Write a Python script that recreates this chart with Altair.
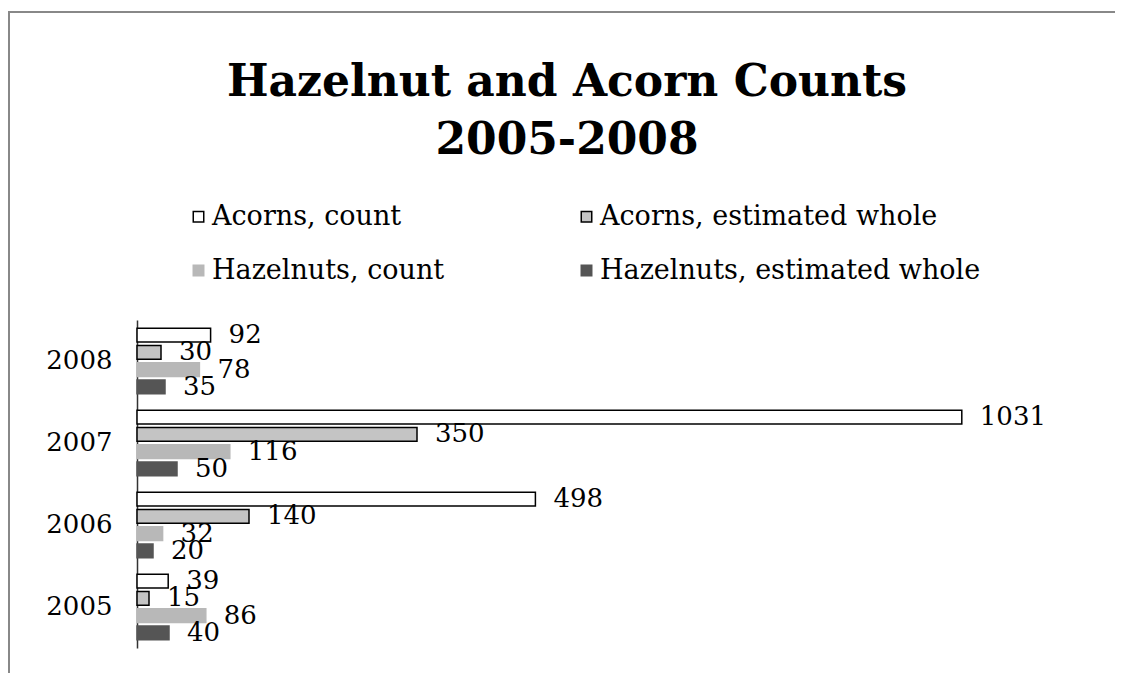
import altair as alt
import pandas as pd

years = ["2008", "2007", "2006", "2005"]
series = ["Acorns, count", "Acorns, estimated whole",
          "Hazelnuts, count", "Hazelnuts, estimated whole"]
acorns_count = [92, 1031, 498, 39]
acorns_est = [30, 350, 140, 15]
hazel_count = [78, 116, 32, 86]
hazel_est = [35, 50, 20, 40]

# legend is laid out column by column, so list it in that order
legend_order = ["Acorns, count", "Hazelnuts, count",
                "Acorns, estimated whole", "Hazelnuts, estimated whole"]
fills = ["#ffffff", "#b8b8b8", "#c4c4c4", "#555555"]
strokes = ["#000000", "#b8b8b8", "#000000", "#555555"]

rows = []
for s, vals in zip(series, [acorns_count, acorns_est, hazel_count, hazel_est]):
    for y, v in zip(years, vals):
        rows.append({"year": y, "series": s, "value": v})
df = pd.DataFrame(rows)

FONT = "DejaVu Serif"

legend_props = dict(
    title=None, orient="none", legendX=48, legendY=-117, columns=2,
    columnPadding=128, rowPadding=26, symbolType="square", symbolSize=110,
    symbolStrokeWidth=1.5, labelFont=FONT, labelFontSize=27, labelColor="#000",
    labelOffset=0, padding=0, labelLimit=0,
)

y_enc = alt.Y("year:N", sort=years,
              scale=alt.Scale(paddingInner=0.2, paddingOuter=0.1),
              axis=alt.Axis(title=None, ticks=False, labelPadding=25,
                            labelFont=FONT, labelFontSize=26, labelColor="#000",
                            domainColor="#333", domainWidth=1.5))
yoff = alt.YOffset("series:N", sort=series,
                   scale=alt.Scale(domain=series, paddingInner=0.2, paddingOuter=0))
x_enc = alt.X("value:Q", scale=alt.Scale(domain=[0, 1075]), axis=None)

base = alt.Chart(df)
bars = base.mark_bar(strokeWidth=1.5).encode(
    y=y_enc, yOffset=yoff, x=x_enc,
    fill=alt.Fill("series:N",
                  scale=alt.Scale(domain=legend_order, range=fills),
                  legend=alt.Legend(**legend_props)),
    stroke=alt.Stroke("series:N",
                      scale=alt.Scale(domain=legend_order, range=strokes),
                      legend=alt.Legend(**legend_props)),
)
labels = base.mark_text(align="left", baseline="middle", dx=18,
                        font=FONT, fontSize=26, color="#000").encode(
    y=y_enc, yOffset=yoff, x=x_enc, text="value:Q")

frame = alt.Chart(pd.DataFrame({"f": [0]})).mark_rect(
    fill=None, stroke="#888888", strokeWidth=2, clip=False).encode(
    x=alt.value(-128), x2=alt.value(981), y=alt.value(-308), y2=alt.value(400))

chart = alt.layer(frame, bars, labels).properties(
    width=860, height=328,
    autosize=alt.AutoSizeParams(type="none"),
    padding={"left": 129, "top": 312, "right": 118, "bottom": 25},
    title=alt.TitleParams(["Hazelnut and Acorn Counts", "2005-2008"],
                          font=FONT, fontSize=44, fontWeight="bold",
                          lineHeight=58, anchor="middle", offset=0, dy=152,
                          color="#000"),
).configure(background="white").configure_view(stroke=None)

chart.save("out.html", embed_options={"renderer": "svg", "actions": False})
